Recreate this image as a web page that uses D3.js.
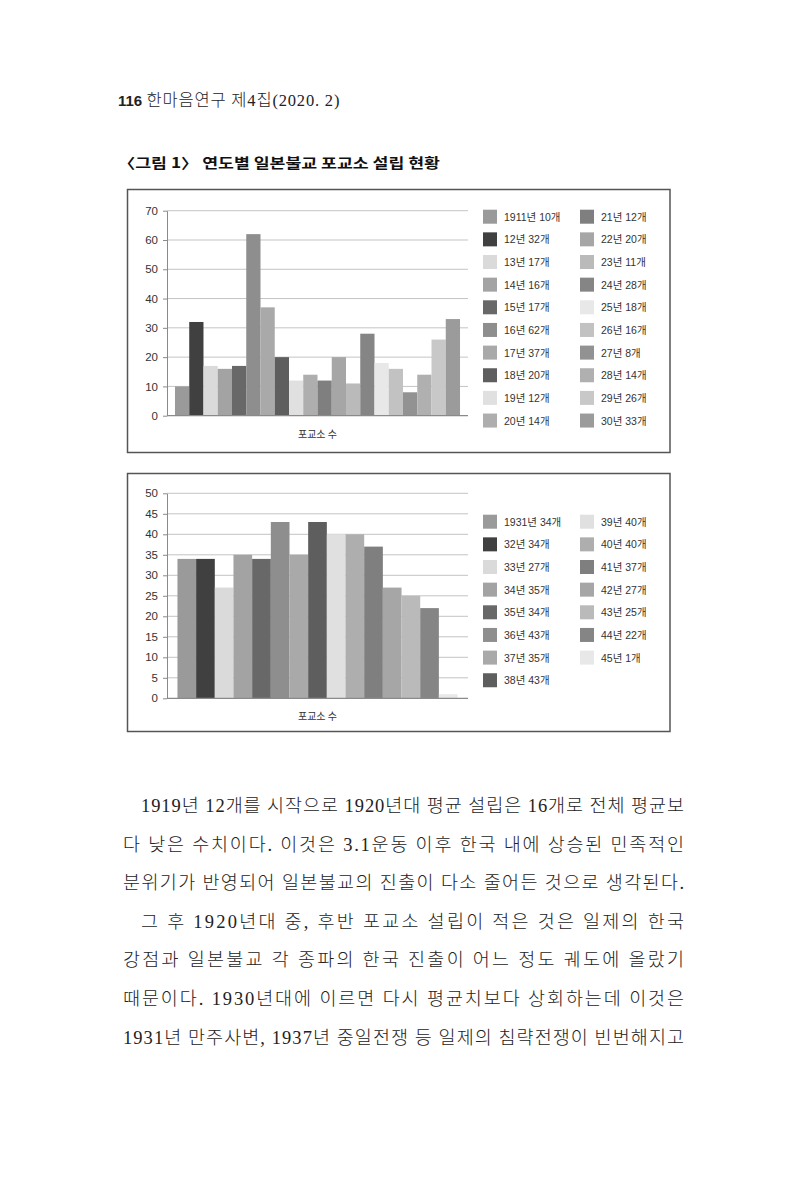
<!DOCTYPE html>
<html>
<head>
<meta charset="utf-8">
<script src="https://cdn.jsdelivr.net/npm/d3@7"></script>
<style>
  body { margin: 0; background: #fff; }
  svg { display: block; }
</style>
</head>
<body>
<svg id="page" width="800" height="1180"></svg>
<script>
// Data.
const years1 = ['1911', '12', '13', '14', '15', '16', '17', '18', '19', '20',
  '21', '22', '23', '24', '25', '26', '27', '28', '29', '30'];
const counts1 = [10, 32, 17, 16, 17, 62, 37, 20, 12, 14, 12, 20, 11, 28, 18, 16, 8, 14, 26, 33];
const ticks1 = [0, 10, 20, 30, 40, 50, 60, 70];

const years2 = ['1931', '32', '33', '34', '35', '36', '37', '38', '39', '40',
  '41', '42', '43', '44', '45'];
const counts2 = [34, 34, 27, 35, 34, 43, 35, 43, 40, 40, 37, 27, 25, 22, 1];
const ticks2 = [0, 5, 10, 15, 20, 25, 30, 35, 40, 45, 50];

const axisTitle = '포교소 수';

// Series fills (Excel grayscale palette), in series order.
const grays = ['#9a9a9a', '#404040', '#dadada', '#a3a3a3', '#686868', '#8e8e8e',
  '#a9a9a9', '#5e5e5e', '#e0e0e0', '#aeaeae', '#7f7f7f', '#a6a6a6', '#bababa',
  '#858585', '#e8e8e8', '#c2c2c2', '#929292', '#b0b0b0', '#c8c8c8', '#9b9b9b'];

const bodyLines = [
  '1919년 12개를 시작으로 1920년대 평균 설립은 16개로 전체 평균보',
  '다 낮은 수치이다. 이것은 3.1운동 이후 한국 내에 상승된 민족적인',
  '분위기가 반영되어 일본불교의 진출이 다소 줄어든 것으로 생각된다.',
  '그 후 1920년대 중, 후반 포교소 설립이 적은 것은 일제의 한국',
  '강점과 일본불교 각 종파의 한국 진출이 어느 정도 궤도에 올랐기',
  '때문이다. 1930년대에 이르면 다시 평균치보다 상회하는데 이것은',
  '1931년 만주사변, 1937년 중일전쟁 등 일제의 침략전쟁이 빈번해지고'
];
const indented = [0, 3];

const sans = '"Liberation Sans", "Noto Sans CJK KR", sans-serif';
const serif = '"Liberation Serif", "Noto Sans CJK KR", serif';

const svg = d3.select('#page');

// Running header and figure caption.
const head = svg.append('text')
  .attr('x', 118).attr('y', 106)
  .style('fill', '#222');
head.append('tspan').text('116 ')
  .style('font-family', sans).style('font-weight', 'bold').style('font-size', '15px');
head.append('tspan').text('한마음연구 제4집(2020. 2)')
  .attr('textLength', 193).attr('lengthAdjust', 'spacing')
  .style('font-family', serif).style('font-weight', 300).style('font-size', '16.5px');

svg.append('text')
  .attr('x', 118).attr('y', 168)
  .attr('textLength', 322).attr('lengthAdjust', 'spacingAndGlyphs')
  .style('font-family', '"Noto Sans CJK KR", sans-serif')
  .style('font-weight', 'bold').style('font-size', '14px').style('fill', '#111')
  .text('〈그림 1〉 연도별 일본불교 포교소 설립 현황');

// One framed column chart with its legend.
function drawChart(opt) {
  const g = svg.append('g');

  g.append('rect')
    .attr('x', opt.box[0]).attr('y', opt.box[1])
    .attr('width', opt.box[2]).attr('height', opt.box[3])
    .attr('fill', '#fff').attr('stroke', '#555').attr('stroke-width', 1.5);

  const x = d3.scaleBand()
    .domain(opt.years)
    .range([167, 468])
    .paddingInner(0)
    .paddingOuter(0.56);

  const y = d3.scaleLinear()
    .domain([0, d3.max(opt.ticks)])
    .range([opt.bottom, opt.bottom - 205]);

  // Gridlines.
  g.append('g')
    .selectAll('line')
    .data(opt.ticks.slice(1))
    .join('line')
    .attr('x1', 167).attr('x2', 468)
    .attr('y1', d => y(d)).attr('y2', d => y(d))
    .attr('stroke', '#c4c4c4').attr('stroke-width', 1);

  // Bars.
  g.append('g')
    .selectAll('rect')
    .data(opt.counts)
    .join('rect')
    .attr('x', (d, i) => x(opt.years[i]))
    .attr('y', d => y(d))
    .attr('width', x.bandwidth())
    .attr('height', d => y(0) - y(d))
    .attr('fill', (d, i) => grays[i]);

  // Value axis.
  const yAxis = g.append('g')
    .attr('transform', 'translate(167,0)')
    .call(d3.axisLeft(y).tickValues(opt.ticks).tickSize(4).tickPadding(5).tickSizeOuter(0));
  yAxis.select('.domain').attr('stroke', '#8a8a8a');
  yAxis.selectAll('.tick line').attr('stroke', '#8a8a8a');
  yAxis.selectAll('.tick text')
    .style('font-family', sans).style('font-size', '11.5px').attr('fill', '#333');

  // Baseline.
  g.append('line')
    .attr('x1', 167).attr('x2', 468)
    .attr('y1', y(0)).attr('y2', y(0))
    .attr('stroke', '#8a8a8a').attr('stroke-width', 1.2);

  g.append('text')
    .attr('x', (167 + 468) / 2).attr('y', opt.bottom + 22)
    .attr('text-anchor', 'middle')
    .style('font-family', '"Noto Sans CJK KR", sans-serif')
    .style('font-size', '10px').style('fill', '#333')
    .text(axisTitle);

  // Legend, filled column by column.
  const items = g.append('g')
    .selectAll('g')
    .data(opt.years)
    .join('g')
    .attr('transform', (d, i) => {
      const col = Math.floor(i / opt.rows);
      const row = i % opt.rows;
      return `translate(${col ? 580 : 483}, ${opt.legendTop + row * 22.65})`;
    });

  items.append('rect')
    .attr('x', 0).attr('y', -7)
    .attr('width', 14).attr('height', 14)
    .attr('fill', (d, i) => grays[i]);

  items.append('text')
    .attr('x', 21).attr('y', 4)
    .style('font-family', sans)
    .style('font-size', '10.5px').style('fill', '#333')
    .text((d, i) => `${d}년 ${opt.counts[i]}개`);
}

drawChart({
  box: [127.5, 189.5, 542.5, 263],
  bottom: 415.7,
  years: years1, counts: counts1, ticks: ticks1,
  rows: 10, legendTop: 216.7
});

drawChart({
  box: [127.5, 473.5, 542.5, 258],
  bottom: 698.3,
  years: years2, counts: counts2, ticks: ticks2,
  rows: 8, legendTop: 521.7
});

// Body text, justified line by line.
svg.append('g')
  .selectAll('text')
  .data(bodyLines)
  .join('text')
  .attr('x', (d, i) => indented.includes(i) ? 141 : 123)
  .attr('y', (d, i) => 812 + i * 38.6)
  .attr('textLength', (d, i) => indented.includes(i) ? 543 : 561)
  .attr('lengthAdjust', 'spacing')
  .style('font-family', serif)
  .style('font-weight', 300)
  .style('font-size', '18.5px')
  .style('fill', '#222')
  .text(d => d);
</script>
</body>
</html>
